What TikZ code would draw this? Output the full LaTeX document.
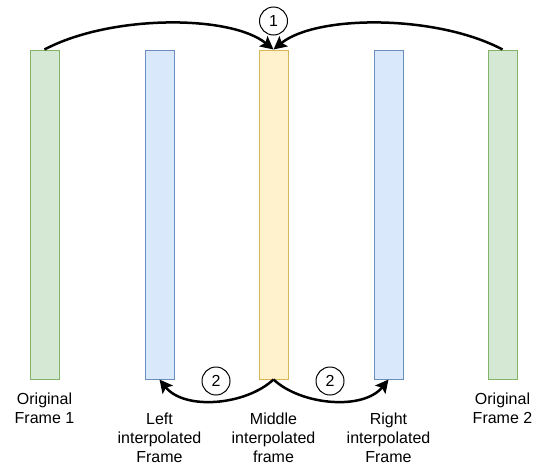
\documentclass[tikz,border=0pt]{standalone}
\usepackage{fontspec}
\setmainfont{Liberation Sans}
\usetikzlibrary{arrows.meta}
\definecolor{origfill}{HTML}{D5E8D4}
\definecolor{origline}{HTML}{82B366}
\definecolor{interfill}{HTML}{DAE8FC}
\definecolor{interline}{HTML}{6C8EBF}
\definecolor{midfill}{HTML}{FFF2CC}
\definecolor{midline}{HTML}{D6B656}
\begin{document}
\begin{tikzpicture}[x=1pt,y=-1pt,
  framebar/.style={draw, line width=1pt, minimum width=29pt, minimum height=329pt, inner sep=0pt},
  origbar/.style={framebar, fill=origfill, draw=origline},
  interbar/.style={framebar, fill=interfill, draw=interline},
  midbar/.style={framebar, fill=midfill, draw=midline},
  lbl/.style={align=center, font=\fontsize{16}{19}\selectfont, inner sep=0pt},
  stepmark/.style={circle, draw, line width=1pt, minimum size=28pt, inner sep=0pt, font=\fontsize{16}{19}\selectfont},
  conn/.style={line width=2.5pt, -{Stealth[length=13pt,width=13pt,inset=2.5pt]}}]
\useasboundingbox (0,0) rectangle (537,466);

% frame bars
\node[origbar]  (o1)  at (44.5,214.5) {};
\node[interbar] (l1)  at (159.5,214.5) {};
\node[midbar]   (mid) at (273.5,214.5) {};
\node[interbar] (r1)  at (388.5,214.5) {};
\node[origbar]  (o2)  at (502.5,214.5) {};

% captions
\node[lbl] (to1)  at (44.5,408)  {Original\\Frame 1};
\node[lbl] (tl1)  at (159.5,438) {Left\\interpolated\\Frame};
\node[lbl] (tmid) at (273.5,438) {Middle\\interpolated\\frame};
\node[lbl] (tr1)  at (388.5,438) {Right\\interpolated\\Frame};
\node[lbl] (to2)  at (502.5,408) {Original\\Frame 2};

% step markers
\node[stepmark] (s1)  at (273.5,21)  {1};
\node[stepmark] (s2l) at (216,381)   {2};
\node[stepmark] (s2r) at (330,381)   {2};

% step 1: originals to middle frame
\draw[conn] (o1.north) .. controls +(66,-35) and +(-43,-35) .. (mid.north);
\draw[conn] (o2.north) .. controls +(-66,-35) and +(43,-35) .. (mid.north);

% step 2: middle frame to left and right
\draw[conn] (mid.south) .. controls +(-28,26) and +(25,31) .. (l1.south);
\draw[conn] (mid.south) .. controls +(28,26) and +(-25,31) .. (r1.south);
\end{tikzpicture}
\end{document}
